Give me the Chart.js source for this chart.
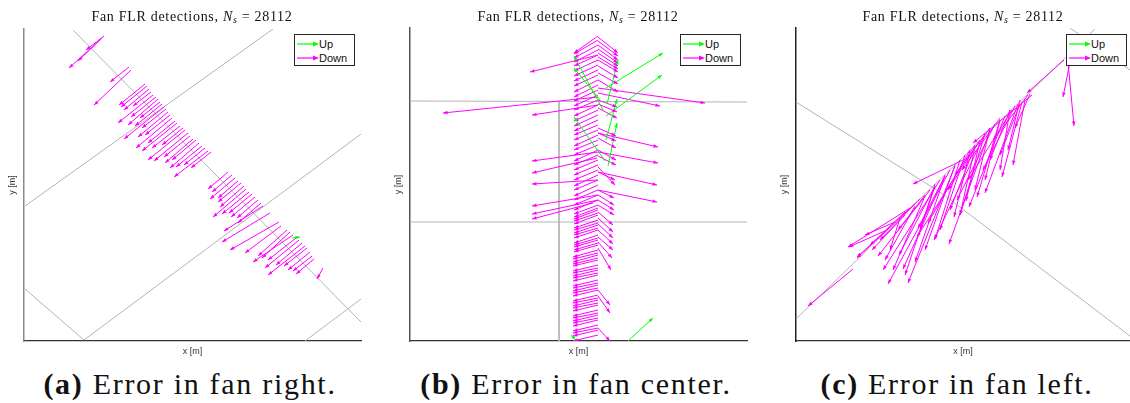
<!DOCTYPE html>
<html>
<head>
<meta charset="utf-8">
<script src="https://cdn.jsdelivr.net/npm/chart.js@4.4.1/dist/chart.umd.min.js"></script>
<style>
  html, body { margin: 0; padding: 0; background: #fff; }
  #fig { position: relative; width: 1130px; height: 403px; overflow: hidden; }
  canvas { position: absolute; }
  .ttl { position: absolute; top: 8px; width: 300px; text-align: center; font: 14px "Liberation Serif", serif; letter-spacing: 0.7px; line-height: 18px; color: #111; white-space: nowrap; }
  .ttl sub { font-size: 10px; vertical-align: -2px; line-height: 0; }
  .cap { position: absolute; top: 367px; width: 400px; text-align: center; font: 30px "Liberation Serif", serif; letter-spacing: 1.7px; line-height: 34px; color: #111; white-space: nowrap; }
  .leg { position: absolute; top: 34px; width: 59px; height: 30px; border: 1px solid #262626; background: #fff; font: 11px "Liberation Sans", Arial, sans-serif; color: #111; }
  .leg div { position: absolute; left: 2px; height: 12px; line-height: 12px; white-space: nowrap; }
  .leg svg { vertical-align: middle; margin-top: -2px; }
</style>
</head>
<body>
<div id="fig">
  <canvas id="chartA" width="370" height="342" style="left:0px;top:20px"></canvas>
  <canvas id="chartB" width="370" height="343" style="left:386px;top:19px"></canvas>
  <canvas id="chartC" width="358" height="343" style="left:772px;top:19px"></canvas>

  <div class="ttl" style="left:42px">Fan FLR detections, <i>N<sub>s</sub></i> = 28112</div>
  <div class="ttl" style="left:428px">Fan FLR detections, <i>N<sub>s</sub></i> = 28112</div>
  <div class="ttl" style="left:813px">Fan FLR detections, <i>N<sub>s</sub></i> = 28112</div>

  <div class="leg" style="left:294px"><div style="top:3px"><svg width="22" height="8"><line x1="0" y1="4" x2="18" y2="4" stroke="#00ff00" stroke-width="1.2"/><polygon points="22,4 16,1.5 16,6.5" fill="#00ff00"/></svg>Up</div><div style="top:17px"><svg width="22" height="8"><line x1="0" y1="4" x2="18" y2="4" stroke="#ff00ff" stroke-width="1.2"/><polygon points="22,4 16,1.5 16,6.5" fill="#ff00ff"/></svg>Down</div></div>
  <div class="leg" style="left:680px"><div style="top:3px"><svg width="22" height="8"><line x1="0" y1="4" x2="18" y2="4" stroke="#00ff00" stroke-width="1.2"/><polygon points="22,4 16,1.5 16,6.5" fill="#00ff00"/></svg>Up</div><div style="top:17px"><svg width="22" height="8"><line x1="0" y1="4" x2="18" y2="4" stroke="#ff00ff" stroke-width="1.2"/><polygon points="22,4 16,1.5 16,6.5" fill="#ff00ff"/></svg>Down</div></div>
  <div class="leg" style="left:1066px"><div style="top:3px"><svg width="22" height="8"><line x1="0" y1="4" x2="18" y2="4" stroke="#00ff00" stroke-width="1.2"/><polygon points="22,4 16,1.5 16,6.5" fill="#00ff00"/></svg>Up</div><div style="top:17px"><svg width="22" height="8"><line x1="0" y1="4" x2="18" y2="4" stroke="#ff00ff" stroke-width="1.2"/><polygon points="22,4 16,1.5 16,6.5" fill="#ff00ff"/></svg>Down</div></div>

  <div class="cap" style="left:-10px"><b>(a)</b> Error in fan right.</div>
  <div class="cap" style="left:376px"><b>(b)</b> Error in fan center.</div>
  <div class="cap" style="left:757px"><b>(c)</b> Error in fan left.</div>
</div>

<script>
// ---- data (metres, origin at lower-left corner of each plot) ----
// each arrow: [xTail, yTail, xHead, yHead]

// (a) fan right
const greyA = [
  [[49, 311], [337, 19]],
  [[249, 312], [1, 135]],
  [[337, 207], [60, 1]],
  [[1, 52], [60, 1]],
  [[337, 42], [281, 0]]
];
const downA = [
  [78,303,45,273],[76,301,54,280],[80,305,62,291],[105,274,86,259],[107,271,70,236],
  [121,257,95,236],[123,255,97,234],[125,252,100,231],[127,249,109,235],[129,246,94,218],
  [132,244,107,224],[134,242,104,216],[136,239,116,223],[138,237,111,215],[140,234,100,202],
  [142,232,118,213],[144,229,114,204],[146,226,121,206],[148,223,112,193],[151,220,124,198],
  [153,218,118,190],[156,215,128,193],[159,213,138,196],[161,211,124,181],[164,208,130,180],
  [166,205,140,184],[169,202,141,178],[172,201,148,181],[175,198,146,173],[178,195,152,174],
  [181,193,160,176],[184,190,150,164],[187,189,167,173],
  [204,169,184,152],[208,166,188,149],[211,163,186,142],[214,160,194,143],[217,158,194,139],
  [220,155,196,134],[222,152,189,124],[225,149,198,127],[228,147,205,128],[231,144,207,124],
  [234,141,213,123],[237,138,214,118],[239,135,200,110],[246,128,198,99],[255,119,206,91],
  [257,115,221,88],
  [263,111,234,85],[266,109,238,83],[269,106,229,79],[272,103,244,81],[275,101,241,73],
  [278,98,252,76],[281,95,244,66],[283,93,260,75],[286,89,264,71],[288,85,269,70],
  [290,82,272,67],[299,73,293,62]
];
const upA = [[268,103,276,104]];

// (b) fan center
const greyB = [
  [[0, 240], [337, 239]],
  [[0, 119], [337, 119]],
  [[149, 240], [149, 0]]
];
const downB = [
  // left arms of the chevron
  [188,305,164,288],[188,301,164,287],[188,296,164,283],[188,291,164,279],[188,286,164,275],
  [188,281,164,270],[188,276,164,265],[188,271,164,260],[188,266,164,255],[188,261,164,249],
  [188,256,164,244],[188,251,164,240],[188,246,164,235],[188,241,164,231],[188,236,164,225],
  [188,231,164,220],[188,226,164,215],[188,221,164,210],[188,216,164,206],[188,211,164,201],
  [188,206,164,195],[188,201,164,191],[188,196,164,186],[188,191,164,180],[188,186,164,176],
  [188,181,164,171],[188,176,164,166],[188,171,164,161],[188,166,164,155],[188,161,164,151],
  [188,156,164,145],[188,151,164,141],[188,146,164,136],[188,141,164,131],[188,136,164,127],
  [188,133,164,124],[188,131,164,122],[188,128,164,120],[188,126,164,117],[188,121,164,113],
  [188,118,164,111],[188,116,164,108],[188,113,164,106],[188,111,164,103],[188,106,164,98],
  [188,103,164,96],[188,101,164,94],[188,98,164,91],[188,96,164,89],[188,91,163,84],
  [188,88,163,82],[188,86,163,79],[188,83,163,77],[188,81,163,75],[188,76,163,70],
  [188,73,163,68],[188,71,163,65],[188,68,163,63],[188,66,163,60],[188,61,163,55],
  [188,58,163,53],[188,56,163,50],[188,53,163,48],[188,51,163,45],[188,46,163,40],
  [188,43,163,38],[188,41,163,35],[188,38,163,33],[188,36,163,30],[188,31,163,25],
  [188,28,163,23],[188,26,163,20],[188,23,163,18],[188,21,163,15],[188,16,163,10],
  [188,13,163,8],[188,11,163,5],[188,6,163,0],
  // right arms of the chevron
  [188,304,208,288],[188,300,208,285],[188,296,208,281],[188,292,208,278],[188,288,208,275],
  [188,284,208,272],[188,281,208,269],[188,275,208,263],[188,268,208,257],[188,261,208,249],
  [188,241,207,234],[188,237,207,229],[188,233,207,223],[188,213,206,205],[188,208,206,200],
  [188,203,206,193],[188,191,206,181],[188,185,206,176],[188,174,205,156],[188,169,205,161],
  [188,151,204,143],[188,146,204,136],[188,141,204,131],[188,136,204,126],[188,129,203,116],
  [188,123,203,109],[188,117,203,103],[188,111,203,97],[188,104,203,91],[188,99,202,83],
  [188,93,201,71],[188,51,200,36],[188,45,200,28],[188,13,200,0],
  // long arrows
  [188,286,120,269],[188,244,33,228],[188,253,295,238],[188,248,250,235],[188,236,122,226],
  [188,189,122,180],[187,183,122,168],[188,161,122,157],[188,208,248,194],[188,189,248,178],
  [188,169,247,156],[188,146,122,135],[188,141,122,127],[183,138,122,122],[188,151,247,139]
];
const upB = [
  [196,253,253,288],[196,225,252,266],[197,237,208,281],[196,201,207,242],[198,175,207,218],
  [193,231,164,285],[190,241,164,273],[195,180,164,224],[218,0,243,23],[167,0,161,6]
];

// (c) fan left
const greyC = [
  [[0, 239], [144, 149], [334, 5]],
  [[0, 22], [299, 312]],
  [[274, 313], [334, 271]]
];
const downC = [
  [274,279,267,244],[272,279,278,215],[268,281,231,248],[236,246,177,198],[229,241,217,176],
  [226,239,206,164],[224,237,204,186],[222,237,189,148],[219,235,187,171],[216,231,172,161],
  [209,225,173,134],[204,221,181,144],[199,217,161,141],[194,211,153,97],[189,207,138,101],
  [184,201,152,151],[179,196,121,104],[174,191,132,118],[167,181,117,157],[164,181,139,102],
  [159,175,112,58],[154,171,92,57],[149,166,107,72],[144,161,87,71],[139,155,103,86],
  [134,151,82,85],[129,146,102,111],[124,142,61,83],[119,137,84,101],[114,133,52,94],
  [109,129,74,96],[104,123,94,91],[99,119,69,106],[91,111,53,94],[89,109,61,84],
  [57,72,12,35],[179,194,164,126],[194,213,159,166],[214,231,194,181],[204,223,166,171],
  [149,165,122,113],[139,157,124,111],[234,247,219,213],[232,246,197,201],
  [189,207,164,126],[179,195,154,131],[169,186,144,111],[159,176,129,91],[149,165,119,79],
  [139,155,109,66],[129,145,97,71],[119,135,89,81],[109,126,76,91],[204,221,189,161],
  [214,231,204,171],[224,241,212,191],[194,213,179,151],[184,200,170,140],[174,190,158,124]
];
const upC = [];

const MAGENTA = "#ff00ff";
const GREEN = "#00ff00";
const GREY = "#b4b4b4";

// ---- helpers ----
function segPoints(list) {
  const pts = [];
  list.forEach(s => {
    pts.push({ x: s[0], y: s[1] }, { x: s[2], y: s[3] }, { x: s[2], y: null });
  });
  return pts;
}

// arrow heads at the head end of each segment, placed from the scale-mapped points
const arrowHeads = {
  id: "arrowHeads",
  afterDatasetsDraw(chart) {
    const ctx = chart.ctx;
    const area = chart.chartArea;
    ctx.save();
    ctx.beginPath();
    ctx.rect(area.left, area.top - 2, area.right - area.left + 2, area.bottom - area.top + 2);
    ctx.clip();
    chart.data.datasets.forEach((ds, i) => {
      if (!ds.arrows) return;
      const pts = chart.getDatasetMeta(i).data;
      ctx.fillStyle = ds.borderColor;
      for (let k = 0; k + 1 < pts.length; k += 3) {
        const a = pts[k], b = pts[k + 1];
        const ang = Math.atan2(b.y - a.y, b.x - a.x);
        const L = 4.5, W = 1.7;
        const c = Math.cos(ang), s = Math.sin(ang);
        ctx.beginPath();
        ctx.moveTo(b.x, b.y);
        ctx.lineTo(b.x - L * c + W * s, b.y - L * s - W * c);
        ctx.lineTo(b.x - L * c - W * s, b.y - L * s + W * c);
        ctx.closePath();
        ctx.fill();
      }
    });
    ctx.restore();
  }
};

function makePanel(id, cfg) {
  const datasets = [];
  cfg.grey.forEach(line => {
    datasets.push({
      data: line.map(p => ({ x: p[0], y: p[1] })),
      borderColor: GREY, borderWidth: 1, pointRadius: 0, showLine: true, order: 3
    });
  });
  datasets.push({
    data: segPoints(cfg.down), borderColor: MAGENTA, borderWidth: 1,
    pointRadius: 0, showLine: true, spanGaps: false, arrows: true, order: 2
  });
  datasets.push({
    data: segPoints(cfg.up), borderColor: GREEN, borderWidth: 1,
    pointRadius: 0, showLine: true, spanGaps: false, arrows: true, order: 1
  });

  new Chart(document.getElementById(id), {
    type: "scatter",
    data: { datasets },
    plugins: [arrowHeads],
    options: {
      responsive: false,
      animation: false,
      events: [],
      layout: { padding: { top: 9, right: cfg.padRight, left: 0, bottom: 0 } },
      plugins: { legend: { display: false }, tooltip: { enabled: false } },
      scales: {
        x: {
          type: "linear", min: 0, max: cfg.xMax,
          grid: { display: false, drawTicks: false },
          ticks: { display: false },
          border: { display: true, color: "#333", width: 1.2 },
          title: { display: true, text: "x [m]", color: "#333",
                   font: { family: "Liberation Sans", size: 9 }, padding: { top: 0, bottom: 5 } },
          afterFit(scale) { scale.height = 21; }
        },
        y: {
          type: "linear", min: 0, max: cfg.yMax,
          grid: { display: false, drawTicks: false },
          ticks: { display: false },
          border: { display: true, color: cfg.yAxisColor, width: 1.5 },
          title: { display: true, text: "y [m]", color: "#333",
                   font: { family: "Liberation Sans", size: 9 }, padding: { top: 7, bottom: 0 } },
          afterFit(scale) { scale.width = 24; }
        }
      }
    }
  });
}

makePanel("chartA", { grey: greyA, down: downA, up: upA, xMax: 337, yMax: 312, padRight: 9, yAxisColor: "#8a8a8a" });
makePanel("chartB", { grey: greyB, down: downB, up: upB, xMax: 337, yMax: 313, padRight: 9, yAxisColor: "#555" });
makePanel("chartC", { grey: greyC, down: downC, up: upC, xMax: 334, yMax: 313, padRight: 0, yAxisColor: "#222" });
</script>
</body>
</html>
